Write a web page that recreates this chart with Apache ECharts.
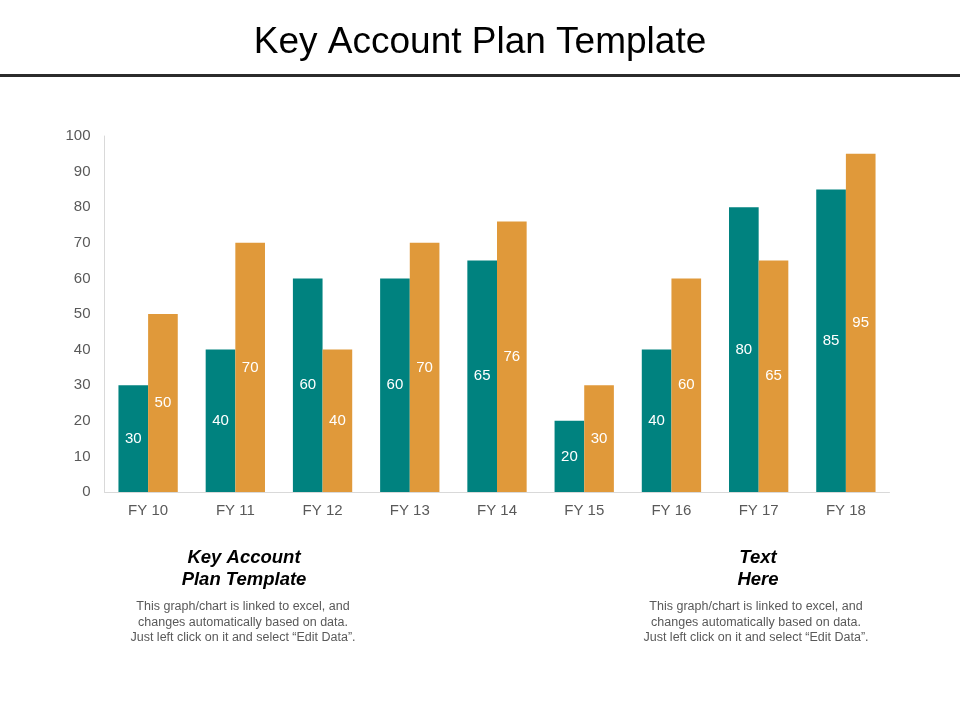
<!DOCTYPE html>
<html>
<head>
<meta charset="utf-8">
<script src="https://cdn.jsdelivr.net/npm/echarts@6/dist/echarts.min.js"></script>
<style>
html,body{margin:0;padding:0;background:#fff;}
#chart{width:960px;height:720px;}
</style>
</head>
<body>
<div id="chart"></div>
<script>
const categories = ['FY 10','FY 11','FY 12','FY 13','FY 14','FY 15','FY 16','FY 17','FY 18'];
const series1 = [30, 40, 60, 60, 65, 20, 40, 80, 85];
const series2 = [50, 70, 40, 70, 76, 30, 60, 65, 95];
const yTicks = { min: 0, max: 100, interval: 10 };
const titleText = 'Key Account Plan Template';
const leftHead = 'Key Account\nPlan Template';
const rightHead = 'Text\nHere';
const bodyText = 'This graph/chart is linked to excel, and\nchanges automatically based on data.\nJust left click on it and select \u201cEdit Data\u201d.';

const chart = echarts.init(document.getElementById('chart'));
const font = '"Liberation Sans", Arial, sans-serif';
const labelStyle = { show: true, position: 'inside', color: '#ffffff', fontSize: 15, fontFamily: font };

chart.setOption({
  animation: false,
  backgroundColor: '#ffffff',
  title: {
    text: titleText, left: 'center', top: 19,
    textStyle: { fontFamily: font, fontSize: 37, fontWeight: 'normal', color: '#000000' }
  },
  grid: { left: 104.5, right: 70.5, top: 136, bottom: 228, containLabel: false },
  xAxis: {
    type: 'category', data: categories,
    axisLine: { show: true, lineStyle: { color: '#D9D9D9', width: 1 } },
    axisTick: { show: false },
    axisLabel: { color: '#595959', fontSize: 15, fontFamily: font, margin: 11 }
  },
  yAxis: {
    type: 'value', min: yTicks.min, max: yTicks.max, interval: yTicks.interval,
    axisLine: { show: true, lineStyle: { color: '#D9D9D9', width: 1 } },
    axisTick: { show: false },
    splitLine: { show: false },
    axisLabel: { color: '#595959', fontSize: 15, fontFamily: font, margin: 14 }
  },
  series: [
    { type: 'bar', data: series1, barGap: '0%', barCategoryGap: '32%',
      itemStyle: { color: '#00827F' }, label: labelStyle },
    { type: 'bar', data: series2, barGap: '0%', barCategoryGap: '32%',
      itemStyle: { color: '#E0993A' }, label: labelStyle }
  ],
  graphic: [
    { type: 'rect', shape: { x: 0, y: 74, width: 960, height: 3 }, style: { fill: '#2B2B2B' } },
    { type: 'text', x: 244, y: 547,
      style: { text: leftHead, textAlign: 'center', fontFamily: font, fontSize: 18.5, fontWeight: 'bold', fontStyle: 'italic', fill: '#000', lineHeight: 22 } },
    { type: 'text', x: 243, y: 599,
      style: { text: bodyText, textAlign: 'center', fontFamily: font, fontSize: 12.5, fill: '#595959', lineHeight: 15.5 } },
    { type: 'text', x: 758, y: 547,
      style: { text: rightHead, textAlign: 'center', fontFamily: font, fontSize: 18.5, fontWeight: 'bold', fontStyle: 'italic', fill: '#000', lineHeight: 22 } },
    { type: 'text', x: 756, y: 599,
      style: { text: bodyText, textAlign: 'center', fontFamily: font, fontSize: 12.5, fill: '#595959', lineHeight: 15.5 } }
  ]
});
</script>
</body>
</html>
